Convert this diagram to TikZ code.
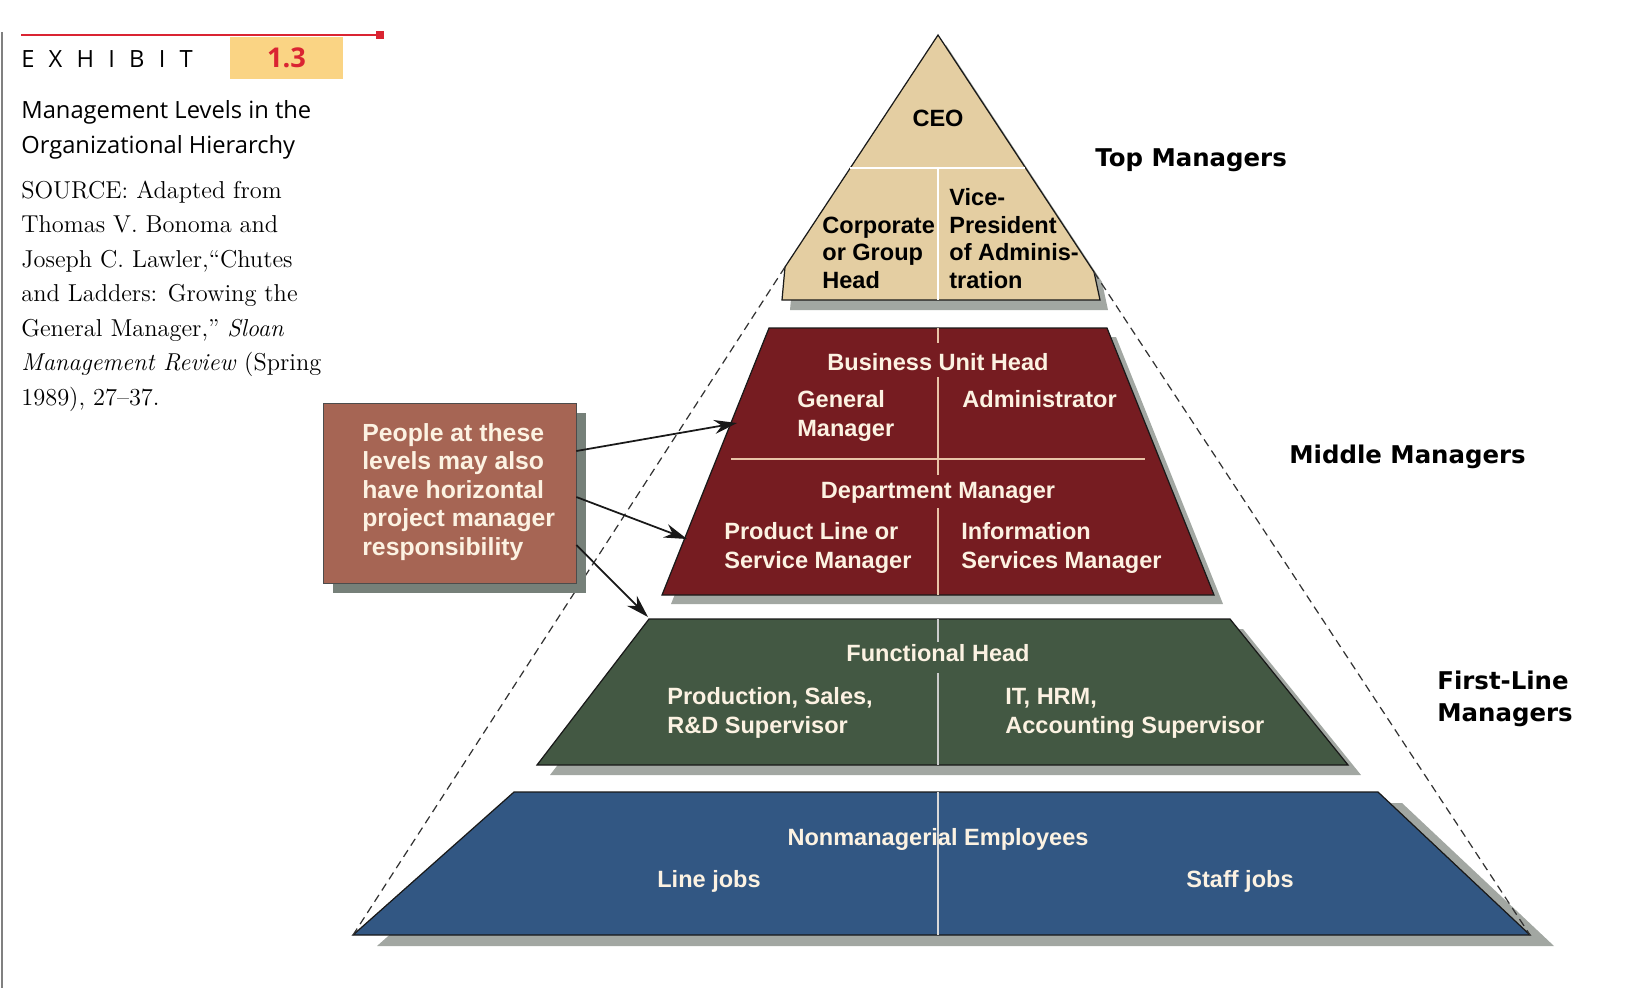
\documentclass[tikz,border=0pt]{standalone}
\usepackage{fontspec}
\setsansfont{Liberation Sans}
\newfontfamily\headfont{Open Sans}
\newfontfamily\exhibitfont[LetterSpace=60]{Open Sans}
\newfontfamily\sidefont{DejaVu Sans}
\usetikzlibrary{arrows.meta, shadows}

\definecolor{toptan}{RGB}{228,206,162}
\definecolor{midred}{RGB}{118,28,33}
\definecolor{lowgreen}{RGB}{67,88,67}
\definecolor{basblue}{RGB}{50,87,131}
\definecolor{brick}{RGB}{166,101,84}
\definecolor{cream}{RGB}{252,242,226}
\definecolor{redsplit}{RGB}{232,196,168}
\definecolor{shadowgray}{RGB}{162,167,162}
\definecolor{boxshadow}{RGB}{118,128,121}
\definecolor{exred}{RGB}{218,36,50}
\definecolor{exyellow}{RGB}{250,212,132}

\tikzset{
	every shadow/.style={fill=shadowgray, opacity=1},
	piece/.style={draw=black!90, line width=0.7pt},
	split/.style={line width=0.7pt},
	outline/.style={draw=black!80, dash pattern=on 4.6pt off 3pt, line width=0.7pt},
	pointer/.style={-{Stealth[length=13pt, width=8pt]}, line width=1pt, black!90},
	lbl/.style={font=\sffamily\bfseries\fontsize{13.4}{16.2}\selectfont, inner sep=0pt, align=left, text=cream},
	side/.style={font=\sidefont\bfseries\fontsize{13.9}{18.2}\selectfont, inner sep=0pt, align=left},
}

\begin{document}
\begin{tikzpicture}[x=0.02cm, y=-0.02cm]
	\useasboundingbox (0, 0) rectangle (1648, 988);
	\draw[black!50, line width=0.9pt] (2, 32) -- (2, 988);
	\draw[exred, line width=1.4pt] (21, 35) -- (380, 35);
	\fill[exred] (376, 31) rectangle (384, 39);
	\node[inner sep=0pt, anchor=base west, font=\exhibitfont\fontsize{13.5}{16}\selectfont] (EX)at(21, 67) {EXHIBIT};
	\node[fill=exyellow, minimum width=2.26cm, minimum height=0.84cm, text=exred, font=\headfont\bfseries\fontsize{15.5}{18}\selectfont] (NUM)at(286.5, 58) {1.3};
	\node[inner sep=0pt, anchor=base west, align=left, font=\headfont\fontsize{13.5}{19.9}\selectfont] (TTL)at(21, 153) {Management Levels in the\\Organizational Hierarchy};
	\node[inner sep=0pt, anchor=base west, align=left, font=\fontsize{13.9}{19.6}\selectfont] (SRC)at(21, 405) {SOURCE: Adapted from\\Thomas V. Bonoma and\\Joseph C. Lawler,“Chutes\\and Ladders: Growing the\\General Manager,” \textit{Sloan}\\\textit{Management Review} (Spring\\1989), 27–37.};

	\draw[piece, fill=toptan, drop shadow={shadow xshift=0.16cm, shadow yshift=-0.2cm}] (938, 35) -- (785, 267) -- (782, 300) -- (1100, 300) -- (1094, 272) -- cycle;
	\draw[split, white] (850, 168) -- (1025, 168);
	\draw[split, white] (938, 168) -- (938, 300);
	\node[lbl, text=black, anchor=base] (CEO)at(938, 126) {CEO};
	\node[lbl, text=black, anchor=base west, font=\sffamily\bfseries\fontsize{13.4}{15.6}\selectfont] (CGH)at(822, 288) {Corporate\\or Group\\Head};
	\node[lbl, text=black, anchor=base west, font=\sffamily\bfseries\fontsize{13.4}{15.6}\selectfont] (VPA)at(949, 288) {Vice-\\President\\of Adminis-\\tration};

	\draw[piece, fill=midred, drop shadow={shadow xshift=0.18cm, shadow yshift=-0.18cm}] (769, 328) -- (1107, 328) -- (1214, 595) -- (662, 595) -- cycle;
	\draw[split, redsplit] (731, 459) -- (1145, 459);
	\draw[split, redsplit] (938, 328) -- (938, 343);
	\draw[split, redsplit] (938, 377) -- (938, 475);
	\draw[split, redsplit] (938, 508) -- (938, 595);
	\node[lbl, anchor=base] (BUH)at(938, 370) {Business Unit Head};
	\node[lbl, anchor=base west] (GM)at(797, 436) {General\\Manager};
	\node[lbl, anchor=base west] (ADM)at(962, 407) {Administrator};
	\node[lbl, anchor=base] (DM)at(938, 498) {Department Manager};
	\node[lbl, anchor=base west] (PLM)at(724, 568) {Product Line or\\Service Manager};
	\node[lbl, anchor=base west] (ISM)at(961, 568) {Information\\Services Manager};

	\draw[piece, fill=lowgreen, drop shadow={shadow xshift=0.26cm, shadow yshift=-0.2cm}] (649, 619) -- (1230, 619) -- (1348, 765) -- (537, 765) -- cycle;
	\draw[split, black!20] (938, 619) -- (938, 642);
	\draw[split, black!20] (938, 673) -- (938, 765);
	\node[lbl, anchor=base] (FH)at(938, 661) {Functional Head};
	\node[lbl, anchor=base west] (PSR)at(667, 733) {Production, Sales,\\R\&D Supervisor};
	\node[lbl, anchor=base west] (IHA)at(1005, 733) {IT, HRM,\\Accounting Supervisor};

	\draw[piece, fill=basblue, drop shadow={shadow xshift=0.48cm, shadow yshift=-0.22cm}] (514, 792) -- (1378, 792) -- (1530, 935) -- (353, 935) -- cycle;
	\draw[split, black!15] (938, 792) -- (938, 935);
	\node[lbl, anchor=base] (NE)at(938, 845) {Nonmanagerial Employees};
	\node[lbl, anchor=base west] (LJ)at(657, 887) {Line jobs};
	\node[lbl, anchor=base west] (SJ)at(1186, 887) {Staff jobs};

	\coordinate (TL) at (785, 267);
	\coordinate (TR) at (1094, 272);
	\coordinate (BL) at (353, 935);
	\coordinate (BR) at (1530, 935);
	\draw[outline] (TL) -- (BL);
	\draw[outline] (TR) -- (BR);

	\node[side, anchor=base west] (TM)at(1095, 166) {Top Managers};
	\node[side, anchor=base west] (MM)at(1289, 463) {Middle Managers};
	\node[side, anchor=base west] (FLM)at(1437, 721) {First-Line\\Managers};

	\node[draw=black!70, fill=brick, minimum width=5.06cm, minimum height=3.6cm, drop shadow={shadow xshift=0.2cm, shadow yshift=-0.2cm, fill=boxshadow}] (PM)at(449.5, 493) {};
	\node[lbl, anchor=base west, font=\sffamily\bfseries\fontsize{14.1}{16.2}\selectfont] (PMT)at(362, 555) {People at these\\levels may also\\have horizontal\\project manager\\responsibility};
	\coordinate (R1) at (737, 423);
	\coordinate (R2) at (687, 539);
	\coordinate (G1) at (648, 617);
	\draw[pointer] ([yshift=0.84cm]PM.east) -- (R1);
	\draw[pointer] ([yshift=-0.08cm]PM.east) -- (R2);
	\draw[pointer] ([yshift=-1.04cm]PM.east) -- (G1);
\end{tikzpicture}
\end{document}
